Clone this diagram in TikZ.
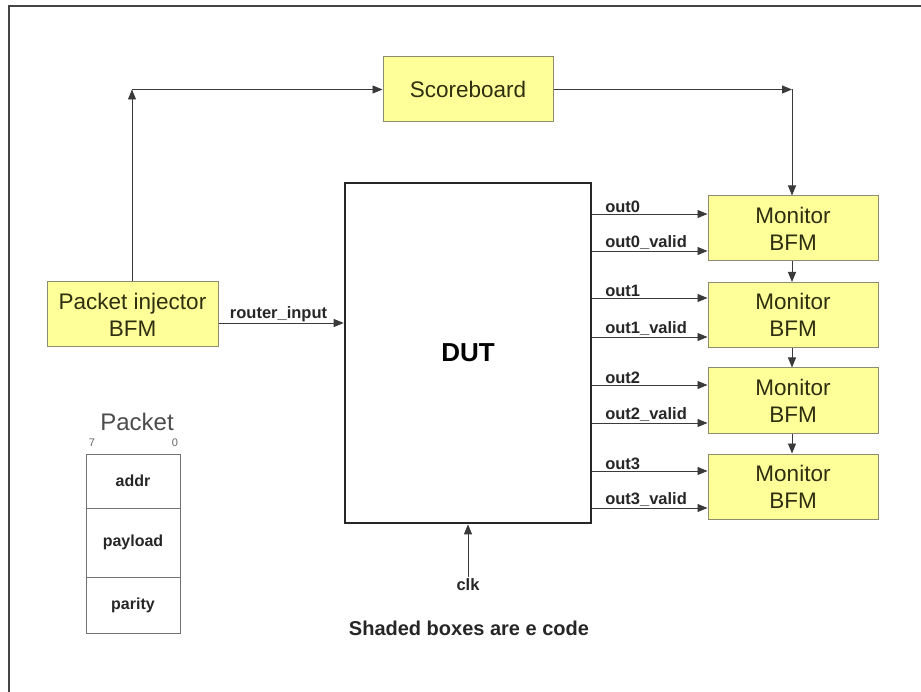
\documentclass[tikz,border=0pt]{standalone}
\usepackage{fontspec}
\setmainfont{Liberation Sans}
\usetikzlibrary{arrows.meta}
\definecolor{boxfill}{HTML}{FFFF99}
\definecolor{boxline}{HTML}{8C8C70}
\definecolor{boxtext}{HTML}{2E2E10}
\definecolor{wire}{HTML}{3A3A3A}
\definecolor{framec}{HTML}{454545}
\begin{document}
\begin{tikzpicture}[x=1pt,y=-1pt,
  ebox/.style={draw=boxline, fill=boxfill, text=boxtext, line width=1pt,
    minimum width=170pt, minimum height=65pt, inner sep=0pt, align=center,
    font=\fontsize{22.5}{27}\selectfont},
  wirearrow/.style={draw=wire, line width=0.9pt, -{Triangle[length=10pt,width=8pt]}},
  siglabel/.style={anchor=south west, inner sep=1pt, font=\bfseries\fontsize{16.5}{18}\selectfont, text=black!85},
  cell/.style={draw=black!55, line width=0.8pt, minimum width=94pt, inner sep=0pt,
    font=\bfseries\fontsize{16}{18}\selectfont, text=black!85}]
  \useasboundingbox (0,0) rectangle (921,692);
  % page frame (top and left edges)
  \draw[framec, line width=2.2pt] (9,692) -- (9,6) -- (921,6);

  % blocks
  \node[ebox] (sb) at (468,89.5) {Scoreboard};
  \node[ebox, minimum width=171pt] (inj) at (132.5,314.5) {Packet injector\\BFM};
  \node[draw=black!85, line width=2.6pt, minimum width=246pt, minimum height=340pt,
        font=\bfseries\fontsize{26}{30}\selectfont] (dut) at (468,353) {DUT};
  \node[ebox] (m0) at (793,228.5) {Monitor\\BFM};
  \node[ebox] (m1) at (793,315) {Monitor\\BFM};
  \node[ebox] (m2) at (793,400.5) {Monitor\\BFM};
  \node[ebox] (m3) at (793,486.5) {Monitor\\BFM};

  % injector -> scoreboard -> first monitor
  \coordinate (cl) at (132,89.5);
  \coordinate (cr) at (792,89.5);
  \draw[wirearrow] (inj.north -| cl) -- (cl);
  \draw[wirearrow] (cl) -- (sb.west);
  \draw[wirearrow] (sb.east) -- (cr);
  \draw[wirearrow] (cr) -- (m0.north -| cr);

  % monitor chain
  \draw[wirearrow] (m0.south -| cr) -- (m1.north -| cr);
  \draw[wirearrow] (m1.south -| cr) -- (m2.north -| cr);
  \draw[wirearrow] (m2.south -| cr) -- (m3.north -| cr);

  % router input
  \draw[wirearrow] (inj.east |- 0,323) -- (dut.west |- 0,323)
    node[pos=0.08, siglabel] {router\_input};

  % DUT outputs
  \foreach \y/\lab/\m in {214/out0/m0, 251/out0\_valid/m0,
                          298/out1/m1, 337/out1\_valid/m1,
                          385/out2/m2, 423/out2\_valid/m2,
                          471/out3/m3, 508/out3\_valid/m3}{
    \draw[wirearrow] (dut.east |- 0,\y) -- (\m.west |- 0,\y)
      node[pos=0.1, siglabel] {\lab};
  }

  % clock input
  \node[font=\bfseries\fontsize{16.5}{18}\selectfont, text=black!85, anchor=north, inner sep=1pt] (clk) at (468,577) {clk};
  \draw[wirearrow] (clk.north) -- (dut.south -| clk);

  % caption
  \node[font=\bfseries\fontsize{20}{24}\selectfont, text=black!85] (cap) at (469,628) {Shaded boxes are e code};

  % packet format
  \node[font=\fontsize{24}{28}\selectfont, text=black!70] (ptitle) at (137,422) {Packet};
  \node[font=\fontsize{11}{13}\selectfont, text=black!60] (b7) at (92,443) {7};
  \node[font=\fontsize{11}{13}\selectfont, text=black!60] (b0) at (175,443) {0};
  \node[cell, minimum height=54pt] (addr) at (133,481) {addr};
  \node[cell, minimum height=69pt] (payload) at (133,542.5) {payload};
  \node[cell, minimum height=56pt] (parity) at (133,605) {parity};
\end{tikzpicture}
\end{document}
